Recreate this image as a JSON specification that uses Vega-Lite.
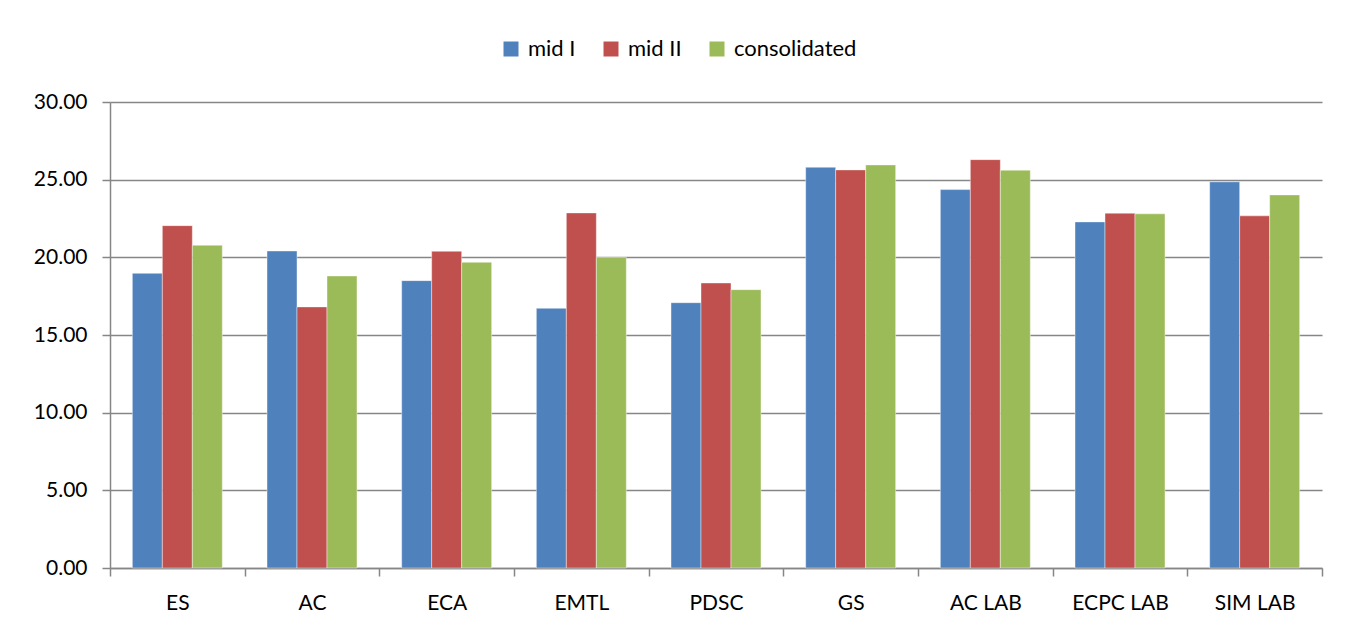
{
  "$schema": "https://vega.github.io/schema/vega-lite/v6.json",
  "autosize": {"type": "none"},
  "padding": {"left": 110, "top": 102, "right": 32, "bottom": 63},
  "width": 1212,
  "height": 466,
  "background": "white",
  "data": {
    "values": [
      {"course": "ES", "series": "mid I", "value": 18.97},
      {"course": "ES", "series": "mid II", "value": 22.04},
      {"course": "ES", "series": "consolidated", "value": 20.78},
      {"course": "AC", "series": "mid I", "value": 20.41},
      {"course": "AC", "series": "mid II", "value": 16.81},
      {"course": "AC", "series": "consolidated", "value": 18.8},
      {"course": "ECA", "series": "mid I", "value": 18.5},
      {"course": "ECA", "series": "mid II", "value": 20.39},
      {"course": "ECA", "series": "consolidated", "value": 19.68},
      {"course": "EMTL", "series": "mid I", "value": 16.72},
      {"course": "EMTL", "series": "mid II", "value": 22.86},
      {"course": "EMTL", "series": "consolidated", "value": 20.0},
      {"course": "PDSC", "series": "mid I", "value": 17.08},
      {"course": "PDSC", "series": "mid II", "value": 18.35},
      {"course": "PDSC", "series": "consolidated", "value": 17.92},
      {"course": "GS", "series": "mid I", "value": 25.8},
      {"course": "GS", "series": "mid II", "value": 25.63},
      {"course": "GS", "series": "consolidated", "value": 25.95},
      {"course": "AC LAB", "series": "mid I", "value": 24.36},
      {"course": "AC LAB", "series": "mid II", "value": 26.29},
      {"course": "AC LAB", "series": "consolidated", "value": 25.61},
      {"course": "ECPC LAB", "series": "mid I", "value": 22.28},
      {"course": "ECPC LAB", "series": "mid II", "value": 22.84},
      {"course": "ECPC LAB", "series": "consolidated", "value": 22.8},
      {"course": "SIM LAB", "series": "mid I", "value": 24.86},
      {"course": "SIM LAB", "series": "mid II", "value": 22.67},
      {"course": "SIM LAB", "series": "consolidated", "value": 24.02}
    ]
  },
  "mark": {"type": "bar", "stroke": "white", "strokeWidth": 0.6, "strokeOpacity": 0.7},
  "encoding": {
    "x": {
      "field": "course",
      "type": "nominal",
      "sort": null,
      "scale": {"paddingInner": 0, "paddingOuter": 0},
      "axis": {
        "title": null,
        "labelAngle": 0,
        "tickBand": "extent",
        "tickSize": 8,
        "tickColor": "#868686",
        "tickWidth": 1.5,
        "domainColor": "#868686",
        "domainWidth": 1.5,
        "labelPadding": 16,
        "labelFont": "Lato",
        "labelFontSize": 21,
        "labelColor": "#000000",
        "grid": false
      }
    },
    "xOffset": {
      "field": "series",
      "type": "nominal",
      "sort": ["mid I", "mid II", "consolidated"],
      "scale": {"paddingInner": 0, "paddingOuter": 0.745}
    },
    "y": {
      "field": "value",
      "type": "quantitative",
      "scale": {"domain": [0, 30]},
      "axis": {
        "title": null,
        "values": [0, 5, 10, 15, 20, 25, 30],
        "format": ".2f",
        "tickSize": 8,
        "tickColor": "#868686",
        "tickWidth": 1.5,
        "domainColor": "#868686",
        "domainWidth": 1.5,
        "gridColor": "#868686",
        "gridWidth": 1.5,
        "labelPadding": 15,
        "labelFont": "Lato",
        "labelFontSize": 21,
        "labelColor": "#000000"
      }
    },
    "color": {
      "field": "series",
      "type": "nominal",
      "sort": ["mid I", "mid II", "consolidated"],
      "scale": {
        "domain": ["mid I", "mid II", "consolidated"],
        "range": ["#4F81BD", "#C0504D", "#9BBB59"]
      },
      "legend": {
        "title": null,
        "orient": "none",
        "direction": "horizontal",
        "legendX": 390,
        "legendY": -64,
        "symbolType": "square",
        "symbolSize": 225,
        "symbolStrokeWidth": 0,
        "labelFont": "Lato",
        "labelFontSize": 22,
        "labelColor": "#000000",
        "labelOffset": 6,
        "columnPadding": 24
      }
    }
  },
  "config": {
    "view": {"stroke": null}
  }
}
